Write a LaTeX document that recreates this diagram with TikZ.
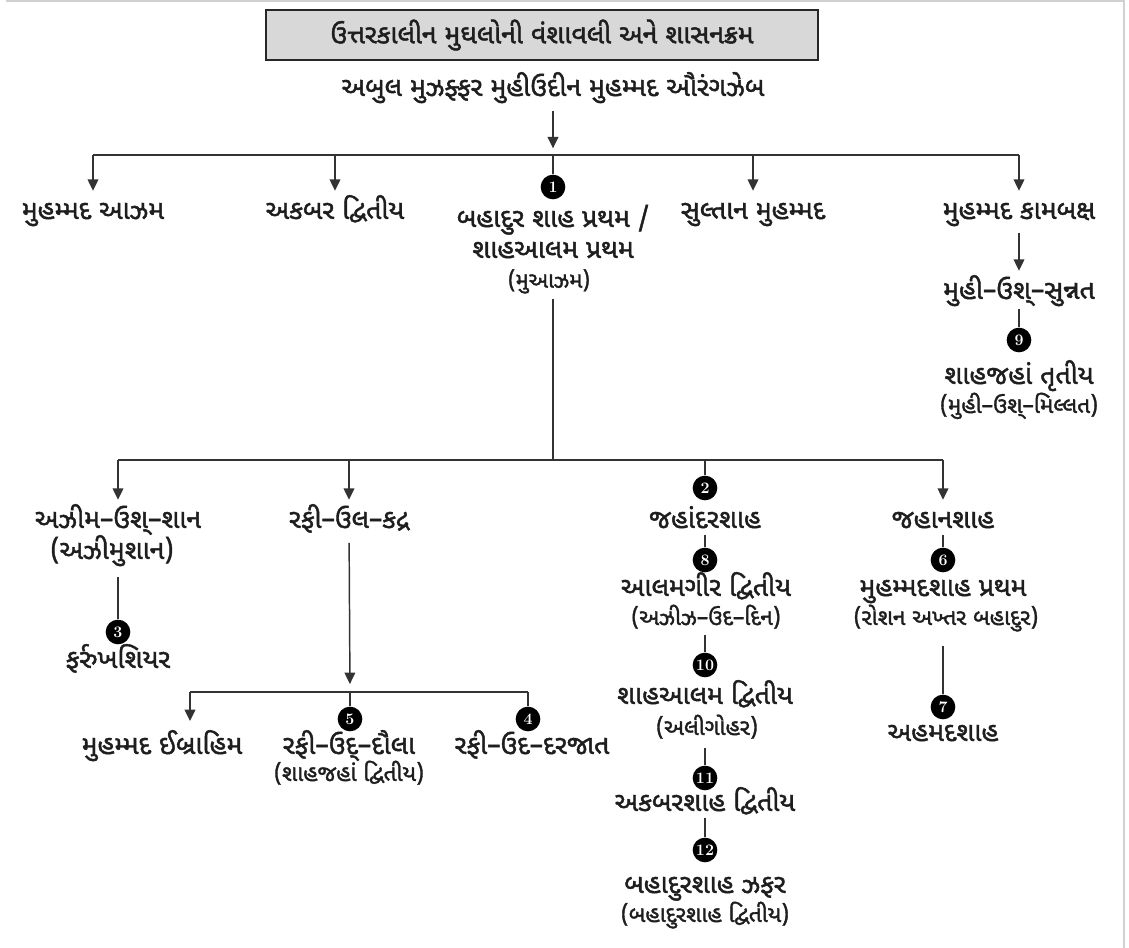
\documentclass[tikz,border=0pt]{standalone}
\usepackage{fontspec}
\usetikzlibrary{arrows.meta,calc}
\newfontfamily\guj[Script=Gujarati, AutoFakeBold=1.6]{Noto Sans Gujarati UI}
\definecolor{ink}{HTML}{1E1E1E}
\definecolor{boxgray}{HTML}{D8D8D8}
\tikzset{
  lbl/.style={font=\guj\bfseries\fontsize{20}{24}\selectfont, inner sep=0pt, text height=14pt, text depth=5pt, text=ink},
  sub/.style={font=\guj\bfseries\fontsize{17}{20}\selectfont, inner sep=0pt, text height=12pt, text depth=4.5pt, text=ink},
  subsmall/.style={font=\guj\bfseries\fontsize{16.5}{19}\selectfont, inner sep=0pt, text height=11.5pt, text depth=4.5pt, text=ink},
  num/.style={circle, fill=black, text=white, font=\bfseries\fontsize{12}{12}\selectfont, minimum size=18.5pt, inner sep=0pt},
  ln/.style={draw=black!80, line width=1.1pt},
  arr/.style={ln, -{Triangle[width=8pt,length=8.5pt]}},
  titlebox/.style={draw=black!85, line width=2pt, fill=boxgray, minimum width=414pt, minimum height=37.5pt, inner sep=0pt, font=\guj\bfseries\fontsize{20}{24}\selectfont, text=ink},
}
\begin{document}
\begin{tikzpicture}[x=0.75pt, y=-0.75pt]
\useasboundingbox (0,0) rectangle (1129,948);
\fill[white] (0,0) rectangle (1129,948);
% page frame
\draw[black!18, line width=1.5pt] (6,1.5) -- (1124,1.5) -- (1124,948);

% title
\node[titlebox] (title) at (542,35) {ઉત્તરકાલીન મુઘલોની વંશાવલી અને શાસનક્રમ};
\node[lbl] (aur) at (553,90) {અબુલ મુઝફ્ફર મુહીઉદીન મુહમ્મદ ઔરંગઝેબ};

% generation 1
\node[lbl] (azam) at (93,213) {મુહમ્મદ આઝમ};
\node[lbl] (akbar) at (335,213) {અકબર દ્વિતીય};
\node[num] (c1) at (553,187) {1};
\node[lbl] (bah1) at (553,221) {બહાદુર શાહ પ્રથમ /};
\node[lbl] (bah2) at (553,252) {શાહઆલમ પ્રથમ};
\node[subsmall] (bah3) at (549,283) {(મુઆઝમ)};
\node[lbl] (sultan) at (753,213) {સુલ્તાન મુહમ્મદ};
\node[lbl] (kam) at (1019,213) {મુહમ્મદ કામબક્ષ};
\node[lbl] (sunnat) at (1019,293) {મુહી–ઉશ્–સુન્નત};
\node[num] (c9) at (1019,340) {9};
\node[lbl] (shj3) at (1019,378) {શાહજહાં તૃતીય};
\node[sub] (shj3b) at (1019,408) {(મુહી–ઉશ્–મિલ્લત)};

\coordinate (b1) at (553,155);
\coordinate (b1l) at (93,155);
\coordinate (b1r) at (1019,155);
\draw[arr, shorten <=6pt, shorten >=5pt] (aur) -- (b1);
\draw[ln] (b1l) -- (b1r);
\draw[arr, shorten >=7pt] (b1l) -- (azam);
\draw[arr, shorten >=7pt] (b1 -| akbar) -- (akbar);
\draw[ln] (b1) -- (c1);
\draw[arr, shorten >=7pt] (b1 -| sultan) -- (sultan);
\draw[arr, shorten >=7pt] (b1r) -- (kam);
\draw[arr, shorten <=5pt, shorten >=7pt] (kam) -- (sunnat);
\draw[ln, shorten <=2pt] (sunnat) -- (c9);

% generation 2
\coordinate (b2) at (553,460);
\coordinate (b2l) at (118,460);
\coordinate (b2r) at (943,460);
\draw[ln, shorten <=4pt] (bah3.south -| b2) -- (b2);
\draw[ln] (b2l) -- (b2r);

\node[lbl] (azim) at (118,522) {અઝીમ–ઉશ્–શાન};
\node[lbl] (azimb) at (112,553) {(અઝીમુશાન)};
\node[num] (c3) at (118,632) {3};
\node[lbl] (farr) at (118,662) {ફર્રુખશિયર};
\draw[arr, shorten >=7pt] (b2l) -- (azim);
\draw[ln, shorten <=8pt] (azimb.south -| c3) -- (c3);

\node[lbl] (rafq) at (349,522) {રફી–ઉલ–કદ્ર};
\draw[arr, shorten >=7pt] (b2 -| rafq) -- (rafq);
\coordinate (b3) at (350,692);
\coordinate (b3l) at (190,692);
\coordinate (b3r) at (528,692);
\draw[arr, shorten <=6pt, shorten >=6pt] (rafq) -- (b3);
\draw[ln] (b3l) -- (b3r);
\node[lbl] (ibr) at (162,748) {મુહમ્મદ ઈબ્રાહિમ};
\node[num] (c5) at (350,719) {5};
\node[lbl] (rdaula) at (349,748) {રફી–ઉદ્–દૌલા};
\node[sub] (rdaulab) at (349,776) {(શાહજહાં દ્વિતીય)};
\node[num] (c4) at (528,719) {4};
\node[lbl] (rdar) at (532,748) {રફી–ઉદ–દરજાત};
\draw[arr] (b3l) -- (b3l |- 0,721);
\draw[ln] (b3) -- (c5);
\draw[ln] (b3r) -- (c4);

% Jahandar Shah line
\node[num] (c2) at (705,488) {2};
\node[lbl] (jahd) at (705,522) {જહાંદરશાહ};
\node[num] (c8) at (705,560) {8};
\node[lbl] (alam) at (706,590) {આલમગીર દ્વિતીય};
\node[sub] (alamb) at (706,620) {(અઝીઝ–ઉદ–દિન)};
\node[num] (c10) at (705,665) {10};
\node[lbl] (sha2) at (705,698) {શાહઆલમ દ્વિતીય};
\node[sub] (sha2b) at (707,730) {(અલીગોહર)};
\node[num] (c11) at (705,778) {11};
\node[lbl] (aks2) at (705,805) {અકબરશાહ દ્વિતીય};
\node[num] (c12) at (705,850) {12};
\node[lbl] (zafar) at (705,887) {બહાદુરશાહ ઝફર};
\node[sub] (zafarb) at (705,917) {(બહાદુરશાહ દ્વિતીય)};
\draw[ln] (b2 -| c2) -- (c2);
\draw[ln] (jahd) -- (c8);
\draw[ln, shorten <=3pt] (alamb.south -| c10) -- (c10);
\draw[ln, shorten <=5pt] (sha2b.south -| c11) -- (c11);
\draw[ln] (aks2) -- (c12);

% Jahan Shah line
\node[lbl] (jahn) at (943,522) {જહાનશાહ};
\node[num] (c6) at (943,560) {6};
\node[lbl] (mshah) at (943,590) {મુહમ્મદશાહ પ્રથમ};
\node[sub] (mshahb) at (946,620) {(રોશન અખ્તર બહાદુર)};
\node[num] (c7) at (943,707) {7};
\node[lbl] (ahmad) at (943,735) {અહમદશાહ};
\draw[arr, shorten >=7pt] (b2r) -- (jahn);
\draw[ln] (jahn) -- (c6);
\draw[ln, shorten <=11pt] (mshahb.south -| c7) -- (c7);
\end{tikzpicture}
\end{document}
